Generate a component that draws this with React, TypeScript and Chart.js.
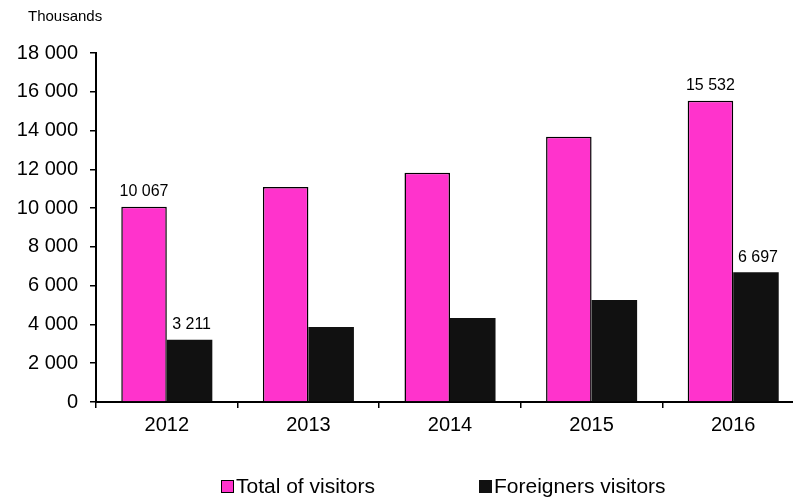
import React, { useEffect, useRef } from "react";
import { Chart, registerables } from "chart.js";

Chart.register(...registerables);

const categories = ["2012", "2013", "2014", "2015", "2016"];
const totalVisitors = [10067, 11090, 11830, 13680, 15532];
const foreignVisitors = [3211, 3870, 4330, 5260, 6697];
const labeledIndices = [0, 4];
const seriesNames = ["Total of visitors", "Foreigners visitors"];
const unitLabel = "Thousands";

const PINK = "#FF33CC";
const DARK = "#111111";
const FONT = "'Liberation Sans', Arial, sans-serif";

const fmt = (n: number) => String(Math.round(n)).replace(/\B(?=(\d{3})+(?!\d))/g, " ");

const overlayPlugin = {
  id: "overlay",
  afterDatasetsDraw(chart: any) {
    const ctx = chart.ctx;
    ctx.save();
    ctx.fillStyle = "#000";
    ctx.font = `16px ${FONT}`;
    ctx.textAlign = "center";
    ctx.textBaseline = "bottom";
    chart.data.datasets.forEach((ds: any, di: number) => {
      const meta = chart.getDatasetMeta(di);
      labeledIndices.forEach((i) => {
        const el = meta.data[i];
        if (!el) return;
        ctx.fillText(fmt(ds.data[i]), el.x + (di === 1 ? 2 : 0), el.y - 7);
      });
    });
    // unit label
    ctx.font = `15px ${FONT}`;
    ctx.textAlign = "left";
    ctx.textBaseline = "middle";
    ctx.fillText(unitLabel, 28, 17);
    // legend
    ctx.font = `21px ${FONT}`;
    const items = [
      { x: 221, color: PINK, border: true, text: seriesNames[0] },
      { x: 479, color: DARK, border: false, text: seriesNames[1] },
    ];
    const cy = 487;
    items.forEach((it) => {
      ctx.fillStyle = it.color;
      ctx.fillRect(it.x, cy - 7, 13, 13);
      if (it.border) {
        ctx.strokeStyle = "#000";
        ctx.lineWidth = 1;
        ctx.strokeRect(it.x + 0.5, cy - 6.5, 12, 12);
      }
      ctx.fillStyle = "#000";
      ctx.fillText(it.text, it.x + 15, cy);
    });
    ctx.restore();
  },
};

export default function App() {
  const ref = useRef<HTMLCanvasElement | null>(null);
  useEffect(() => {
    if (!ref.current) return;
    const chart = new Chart(ref.current, {
      type: "bar",
      data: {
        labels: categories,
        datasets: [
          {
            label: seriesNames[0],
            data: totalVisitors,
            backgroundColor: PINK,
            borderColor: "#000",
            borderWidth: 1.5,
            categoryPercentage: 0.643,
            barPercentage: 1,
          },
          {
            label: seriesNames[1],
            data: foreignVisitors,
            backgroundColor: DARK,
            borderColor: DARK,
            borderWidth: 0,
            categoryPercentage: 0.643,
            barPercentage: 1,
          },
        ],
      },
      options: {
        animation: false,
        responsive: false,
        maintainAspectRatio: false,
        layout: { padding: { top: 53, bottom: 60, left: 0, right: 6 } },
        plugins: {
          legend: { display: false },
          tooltip: { enabled: false },
        },
        scales: {
          x: {
            offset: true,
            afterFit: (s: any) => {
              s.height = 38;
            },
            grid: {
              offset: true,
              drawOnChartArea: false,
              drawTicks: true,
              tickLength: 6,
              color: "#000",
              lineWidth: 1.5,
            },
            border: { display: true, color: "#000", width: 2 },
            ticks: {
              color: "#000",
              font: { family: FONT, size: 20 },
              padding: 5,
              maxRotation: 0,
            },
          },
          y: {
            min: 0,
            max: 18000,
            afterFit: (s: any) => {
              s.width = 96;
            },
            grid: {
              drawOnChartArea: false,
              drawTicks: true,
              tickLength: 6,
              color: "#000",
              lineWidth: 1.5,
            },
            border: { display: true, color: "#000", width: 2 },
            ticks: {
              stepSize: 2000,
              color: "#000",
              font: { family: FONT, size: 20 },
              padding: 12,
              callback: (v: any) => fmt(Number(v)),
            },
          },
        },
      },
      plugins: [overlayPlugin],
    });
    return () => chart.destroy();
  }, []);
  return (
    <div style={{ position: "fixed", left: 0, top: 0, width: 793, height: 500, overflow: "hidden", background: "#fff" }}>
      <canvas ref={ref} width={810} height={500} style={{ display: "block" }} />
    </div>
  );
}
